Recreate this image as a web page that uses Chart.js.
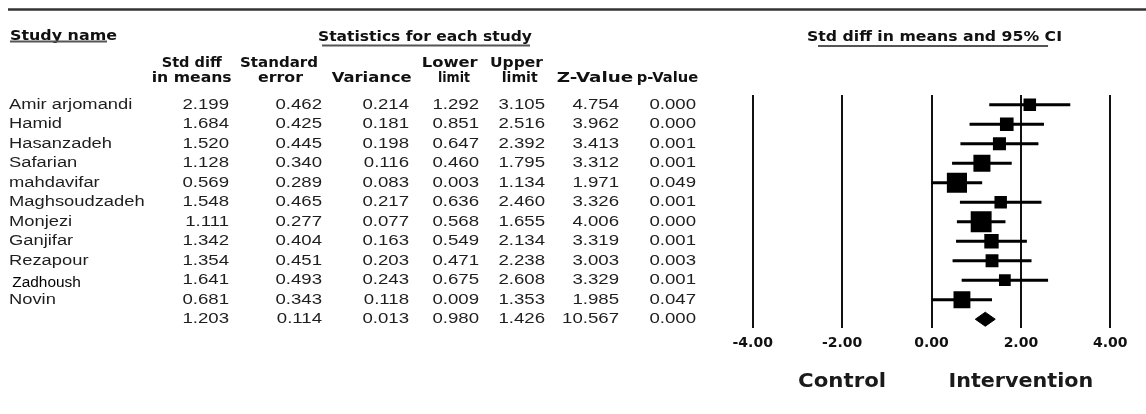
<!DOCTYPE html>
<html>
<head>
<meta charset="utf-8">
<script src="https://cdn.jsdelivr.net/npm/chart.js@4.4.0/dist/chart.umd.min.js"></script>
<style>
html, body { margin: 0; padding: 0; background: #fff; }
</style>
</head>
<body>
<canvas id="mycanvas" width="1146" height="414"></canvas>
<script>
// study rows, the last row is the pooled (summary) result
var studies  = ['Amir arjomandi', 'Hamid', 'Hasanzadeh', 'Safarian', 'mahdavifar', 'Maghsoudzadeh', 'Monjezi', 'Ganjifar', 'Rezapour', 'Zadhoush', 'Novin', ''];
var stdDiff  = [2.199, 1.684, 1.520, 1.128, 0.569, 1.548, 1.111, 1.342, 1.354, 1.641, 0.681, 1.203];
var stdErr   = [0.462, 0.425, 0.445, 0.340, 0.289, 0.465, 0.277, 0.404, 0.451, 0.493, 0.343, 0.114];
var variance = [0.214, 0.181, 0.198, 0.116, 0.083, 0.217, 0.077, 0.163, 0.203, 0.243, 0.118, 0.013];
var lower    = [1.292, 0.851, 0.647, 0.460, 0.003, 0.636, 0.568, 0.549, 0.471, 0.675, 0.009, 0.980];
var upper    = [3.105, 2.516, 2.392, 1.795, 1.134, 2.460, 1.655, 2.134, 2.238, 2.608, 1.353, 1.426];
var zValue   = [4.754, 3.962, 3.413, 3.312, 1.971, 3.326, 4.006, 3.319, 3.003, 3.329, 1.985, 10.567];
var pValue   = [0.000, 0.000, 0.001, 0.001, 0.049, 0.001, 0.000, 0.001, 0.003, 0.001, 0.047, 0.000];
var xTicks   = [-4, -2, 0, 2, 4];
var sideLabels = ['Control', 'Intervention'];

var nStudy = studies.length - 1;

// squares (size from inverse variance), CI segments, pooled diamond
var squares = [], ciLine = [], radii = [];
for (var i = 0; i < nStudy; i++) {
	squares.push({x: stdDiff[i], y: i});
	radii.push(5.8 / Math.sqrt(variance[i]) / Math.SQRT2);
	ciLine.push({x: lower[i], y: i});
	ciLine.push({x: upper[i], y: i});
	ciLine.push({x: null, y: null});
}
var s = nStudy;
var diamond = [
	{x: lower[s], y: s},
	{x: stdDiff[s], y: s - 0.36},
	{x: upper[s], y: s},
	{x: stdDiff[s], y: s + 0.36},
	{x: lower[s], y: s}
];

// text layout
var colRight = [229, 322, 409, 479, 545, 619, 696];
var headers = [
	{t: 'Study name', x: 10, y: 36.5, w: 107, u: [10, 107, 41.5]},
	{t: 'Statistics for each study', x: 318, y: 37.5, w: 214, u: [322, 530, 45.5]},
	{t: 'Std diff in means and 95% CI', x: 807, y: 37.5, w: 255, u: [818, 1048, 46]},
	{t: 'Std diff', x: 161.7, y: 63, w: 60},
	{t: 'in means', x: 151.7, y: 78, w: 80},
	{t: 'Standard', x: 240, y: 63, w: 78},
	{t: 'error', x: 258, y: 78, w: 45},
	{t: 'Variance', x: 331.7, y: 78, w: 80},
	{t: 'Lower', x: 421.7, y: 63, w: 56},
	{t: 'limit', x: 438, y: 78, w: 32},
	{t: 'Upper', x: 490, y: 63, w: 53},
	{t: 'limit', x: 501.7, y: 78, w: 36},
	{t: 'Z-Value', x: 556.7, y: 78, w: 76.5},
	{t: 'p-Value', x: 636.7, y: 78, w: 61.5}
];

function txt(ctx, str, x, y, font, align, sx, color) {
	ctx.save();
	ctx.font = font;
	ctx.fillStyle = color || '#1e1e1e';
	ctx.textBaseline = 'middle';
	ctx.textAlign = 'left';
	var w = ctx.measureText(str).width * sx;
	var left = align === 'left' ? x : (align === 'right' ? x - w : x - w / 2);
	ctx.translate(left, y);
	ctx.scale(sx, 1);
	ctx.fillText(str, 0, 0);
	ctx.restore();
}

function fitTxt(ctx, str, x, y, font, w, color) {
	ctx.save();
	ctx.font = font;
	var sx = w / ctx.measureText(str).width;
	ctx.restore();
	txt(ctx, str, x, y, font, 'left', sx, color);
}

var tablePlugin = {
	id: 'tableText',
	afterDraw: function(chart) {
		var ctx = chart.ctx;
		var ys = chart.scales.y, xs = chart.scales.x;

		// top rule
		ctx.save();
		ctx.strokeStyle = '#333';
		ctx.lineWidth = 2.5;
		ctx.beginPath();
		ctx.moveTo(8, 9.5);
		ctx.lineTo(1146, 9.5);
		ctx.stroke();
		ctx.restore();

		var hFont = 'bold 13.5px "DejaVu Sans"';
		headers.forEach(function(h) {
			fitTxt(ctx, h.t, h.x, h.y, hFont, h.w, '#111');
			if (h.u) {
				ctx.save();
				ctx.strokeStyle = '#555';
				ctx.lineWidth = 2;
				ctx.beginPath();
				ctx.moveTo(h.u[0], h.u[2]);
				ctx.lineTo(h.u[1], h.u[2]);
				ctx.stroke();
				ctx.restore();
			}
		});

		var dFont = '14px "Liberation Sans"';
		for (var i = 0; i < studies.length; i++) {
			var y = ys.getPixelForValue(i);
			if (studies[i] === 'Zadhoush') {
				txt(ctx, studies[i], 12.3, y + 3, dFont, 'left', 1.1, '#000');
			} else {
				txt(ctx, studies[i], 9, y, dFont, 'left', 1.31);
			}
			var vals = [stdDiff[i], stdErr[i], variance[i], lower[i], upper[i], zValue[i], pValue[i]];
			for (var c = 0; c < vals.length; c++) {
				txt(ctx, vals[c].toFixed(3), colRight[c], y, dFont, 'right', 1.33);
			}
		}

		var bFont = 'bold 19px "DejaVu Sans"';
		txt(ctx, sideLabels[0], xs.getPixelForValue(-2), 382, bFont, 'center', 1.12, '#1a1a1a');
		txt(ctx, sideLabels[1], xs.getPixelForValue(2), 382, bFont, 'center', 1.09, '#1a1a1a');
	}
};

var ctx = document.getElementById('mycanvas');

var forest = new Chart(ctx, {
	type: 'scatter',
	data: {
		datasets: [
			{
				label: 'Std diff in means',
				data: squares,
				pointStyle: 'rect',
				pointRadius: radii,
				backgroundColor: '#000',
				borderColor: '#000',
				borderWidth: 0
			},
			{
				type: 'line',
				label: '95% CI',
				data: ciLine,
				borderColor: '#000',
				borderWidth: 3,
				pointRadius: 0,
				spanGaps: false,
				fill: false,
				tension: 0
			},
			{
				type: 'line',
				label: 'Pooled',
				data: diamond,
				borderColor: '#000',
				backgroundColor: '#000',
				borderWidth: 1,
				pointRadius: 0,
				fill: 'shape',
				tension: 0
			}
		]
	},
	options: {
		responsive: false,
		animation: false,
		events: [],
		layout: {
			padding: {left: 752.7, right: 35.7, top: 95, bottom: 0}
		},
		plugins: {
			legend: {display: false},
			tooltip: {enabled: false}
		},
		scales: {
			x: {
				type: 'linear',
				min: -4,
				max: 4,
				afterBuildTicks: function(scale) {
					scale.ticks = xTicks.map(function(v) { return {value: v}; });
				},
				afterFit: function(scale) { scale.height = 86; },
				grid: {color: '#111', lineWidth: 2, drawTicks: false},
				border: {display: false},
				ticks: {
					padding: 7,
					maxRotation: 0,
					autoSkip: false,
					color: '#111',
					font: {family: 'DejaVu Sans', weight: 'bold', size: 14},
					callback: function(v) { return Number(v).toFixed(2); }
				}
			},
			y: {
				type: 'linear',
				reverse: true,
				min: -0.5,
				max: 11.45,
				display: false
			}
		}
	},
	plugins: [tablePlugin]
});
</script>
</body>
</html>
